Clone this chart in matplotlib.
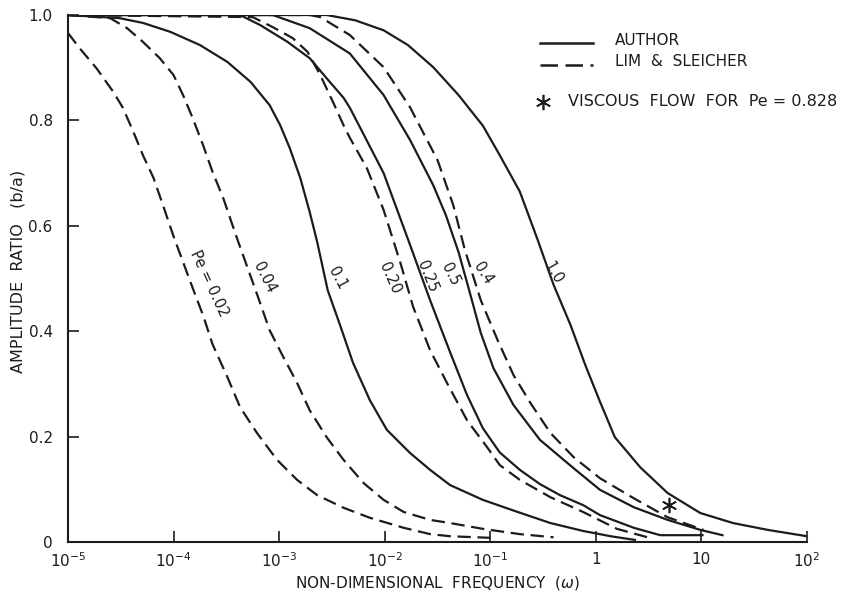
import matplotlib.pyplot as plt
import numpy as np

# values; x given as log10(omega)
# Lim & Sleicher (dashed)
lim_002_logw = [-5.0, -4.89, -4.73, -4.57, -4.48, -4.38, -4.29, -4.19, -4.10, -4.00, -3.815,
                -3.72, -3.63, -3.49, -3.37, -3.21, -3.02, -2.83, -2.64, -2.39, -2.14,
                -1.82, -1.57, -1.38, -1.00]
lim_002_amp = [0.966, 0.937, 0.899, 0.854, 0.824, 0.778, 0.734, 0.691, 0.639, 0.580, 0.480,
               0.430, 0.375, 0.313, 0.256, 0.207, 0.156, 0.118, 0.089, 0.065, 0.046,
               0.027, 0.015, 0.011, 0.008]

lim_004_logw = [-5.0, -4.60, -4.44, -4.29, -4.13, -4.00, -3.91, -3.82, -3.72, -3.63, -3.53,
                -3.40, -3.20, -3.09, -2.96, -2.83, -2.71, -2.55, -2.39, -2.20, -2.01,
                -1.82, -1.57, -1.38, -1.07, -0.72, -0.40]
lim_004_amp = [1.0, 0.994, 0.975, 0.949, 0.918, 0.886, 0.848, 0.805, 0.753, 0.702, 0.653,
               0.577, 0.465, 0.402, 0.351, 0.302, 0.250, 0.199, 0.156, 0.112, 0.080,
               0.057, 0.042, 0.036, 0.025, 0.015, 0.009]

lim_020_logw = [-5.0, -3.25, -3.06, -2.87, -2.73, -2.61, -2.49, -2.39, -2.33, -2.17, -2.01,
                -1.85, -1.73, -1.57, -1.41, -1.22, -1.03, -0.91, -0.72, -0.43, -0.12,
                0.20, 0.49]
lim_020_amp = [1.0, 0.996, 0.977, 0.956, 0.930, 0.886, 0.835, 0.791, 0.767, 0.710, 0.630,
               0.529, 0.446, 0.364, 0.302, 0.231, 0.180, 0.146, 0.118, 0.085, 0.057,
               0.025, 0.009]

lim_040_logw = [-5.0, -2.71, -2.61, -2.33, -2.01, -1.76, -1.50, -1.35, -1.24, -1.09, -0.93,
                -0.78, -0.62, -0.43, -0.21, 0.04, 0.36, 0.68, 1.02]
lim_040_amp = [1.0, 1.0, 0.996, 0.962, 0.901, 0.825, 0.725, 0.639, 0.554, 0.459, 0.383,
               0.317, 0.264, 0.207, 0.161, 0.121, 0.083, 0.047, 0.023]

# Author (solid)
auth_01_logw = [-5.0, -4.51, -4.29, -4.03, -3.75, -3.49, -3.27, -3.09, -2.99, -2.90, -2.80,
                -2.71, -2.64, -2.54, -2.42, -2.30, -2.14, -1.98, -1.76, -1.57, -1.38,
                -1.07, -0.74, -0.43, -0.12, 0.14, 0.37]
auth_01_amp = [1.0, 0.994, 0.985, 0.968, 0.943, 0.911, 0.873, 0.829, 0.791, 0.748, 0.691,
               0.626, 0.570, 0.478, 0.410, 0.340, 0.269, 0.213, 0.169, 0.137, 0.108,
               0.080, 0.057, 0.036, 0.021, 0.011, 0.004]

auth_025_logw = [-5.0, -3.37, -3.18, -2.92, -2.71, -2.55, -2.39, -2.33, -2.01, -1.76, -1.57,
                 -1.38, -1.22, -1.07, -0.91, -0.72, -0.53, -0.34, -0.12, 0.04, 0.36,
                 0.61, 1.01]
auth_025_amp = [1.0, 1.0, 0.981, 0.949, 0.918, 0.880, 0.843, 0.824, 0.700, 0.564, 0.459,
                0.360, 0.279, 0.216, 0.170, 0.137, 0.110, 0.089, 0.070, 0.051, 0.027,
                0.013, 0.013]

auth_05_logw = [-5.0, -3.06, -2.71, -2.33, -2.01, -1.76, -1.54, -1.42, -1.30, -1.20, -1.09,
                -0.97, -0.78, -0.53, -0.21, 0.04, 0.36, 0.68, 0.99, 1.20]
auth_05_amp = [1.0, 1.0, 0.975, 0.927, 0.848, 0.763, 0.677, 0.620, 0.550, 0.478, 0.397,
               0.330, 0.260, 0.194, 0.140, 0.099, 0.066, 0.042, 0.023, 0.013]

auth_10_logw = [-5.0, -2.55, -2.28, -2.01, -1.78, -1.54, -1.30, -1.07, -0.91, -0.72, -0.55,
                -0.40, -0.24, -0.10, 0.04, 0.18, 0.42, 0.68, 0.99, 1.30, 1.63, 2.00]
auth_10_amp = [1.0, 1.0, 0.990, 0.971, 0.943, 0.901, 0.848, 0.790, 0.734, 0.665, 0.573,
               0.488, 0.412, 0.336, 0.266, 0.199, 0.142, 0.093, 0.055, 0.036, 0.023, 0.011]

# viscous flow point for Pe = 0.828
visc_logw = [0.69]
visc_amp = [0.070]

# curve labels: text, log10(omega), amplitude, rotation
curve_labels = ['Pe = 0.02', '0.04', '0.1', '0.20', '0.25', '0.5', '0.4', '1.0']
label_logw = [-3.66, -3.14, -2.45, -1.95, -1.60, -1.38, -1.07, -0.40]
label_amp = [0.490, 0.501, 0.501, 0.501, 0.503, 0.507, 0.510, 0.510]
label_rot = [-65, -63, -62, -66, -68, -63, -57, -60]

ink = '#1c1c1c'
dash = (0, (6, 3))

fig = plt.figure(figsize=(8.54, 5.98), dpi=100)
ax = fig.add_axes([0.0796, 0.0936, 0.8653, 0.8813])

for lw_, amp in [(lim_002_logw, lim_002_amp), (lim_004_logw, lim_004_amp),
                 (lim_020_logw, lim_020_amp), (lim_040_logw, lim_040_amp)]:
    ax.plot(10 ** np.array(lw_), amp, color=ink, lw=1.6, ls=dash)

for lw_, amp in [(auth_01_logw, auth_01_amp), (auth_025_logw, auth_025_amp),
                 (auth_05_logw, auth_05_amp), (auth_10_logw, auth_10_amp)]:
    ax.plot(10 ** np.array(lw_), amp, color=ink, lw=1.6)

ax.plot(10 ** np.array(visc_logw), visc_amp, ls='none', marker=(6, 2, 0),
        ms=11, mew=1.2, color=ink)

for txt, lx, ly, rot in zip(curve_labels, label_logw, label_amp, label_rot):
    ax.text(10 ** lx, ly, txt, rotation=rot, rotation_mode='anchor',
            ha='center', va='center', fontsize=10.5, color=ink)

ax.set_xscale('log')
ax.set_xlim(1e-5, 1e2)
ax.set_ylim(0, 1.0)
ax.set_xticks([1e-5, 1e-4, 1e-3, 1e-2, 1e-1, 1, 10, 100])
ax.set_xticklabels(['$10^{-5}$', '$10^{-4}$', '$10^{-3}$', '$10^{-2}$', '$10^{-1}$',
                    '1', '10', '$10^{2}$'])
ax.xaxis.set_minor_locator(plt.NullLocator())
ax.set_yticks([0, 0.2, 0.4, 0.6, 0.8, 1.0])
ax.set_yticklabels(['0', '0.2', '0.4', '0.6', '0.8', '1.0'])
ax.tick_params(direction='in', length=8, width=1.2, colors=ink, labelsize=11)
ax.tick_params(axis='y', pad=11)
ax.tick_params(axis='x', pad=7)

for side in ['top', 'right']:
    ax.spines[side].set_visible(False)
for side in ['left', 'bottom']:
    ax.spines[side].set_linewidth(1.5)
    ax.spines[side].set_color(ink)

ax.set_xlabel('NON-DIMENSIONAL  FREQUENCY  ($\\omega$)', fontsize=11, color=ink)
ax.xaxis.set_label_coords(0.5, -0.060)
ax.set_ylabel('AMPLITUDE  RATIO   (b/a)', fontsize=11.5, color=ink)
ax.yaxis.set_label_coords(-0.058, 0.513)

# legend block
ax.plot([0.639, 0.710], [0.947, 0.947], transform=ax.transAxes, color=ink, lw=1.8,
        clip_on=False)
ax.plot([0.639, 0.710], [0.905, 0.905], transform=ax.transAxes, color=ink, lw=1.8,
        ls=(0, (7, 3)), clip_on=False)
ax.text(0.740, 0.951, 'AUTHOR', transform=ax.transAxes, va='center', fontsize=11,
        color=ink)
ax.text(0.740, 0.911, 'LIM  &  SLEICHER', transform=ax.transAxes, va='center',
        fontsize=11, color=ink)
ax.plot([0.643], [0.835], transform=ax.transAxes, ls='none', marker=(6, 2, 0), ms=11,
        mew=1.2, color=ink, clip_on=False)
ax.text(0.677, 0.835, 'VISCOUS  FLOW  FOR  Pe = 0.828', transform=ax.transAxes,
        va='center', fontsize=11.5, color=ink, clip_on=False)

fig.savefig('out.png', dpi=100)
